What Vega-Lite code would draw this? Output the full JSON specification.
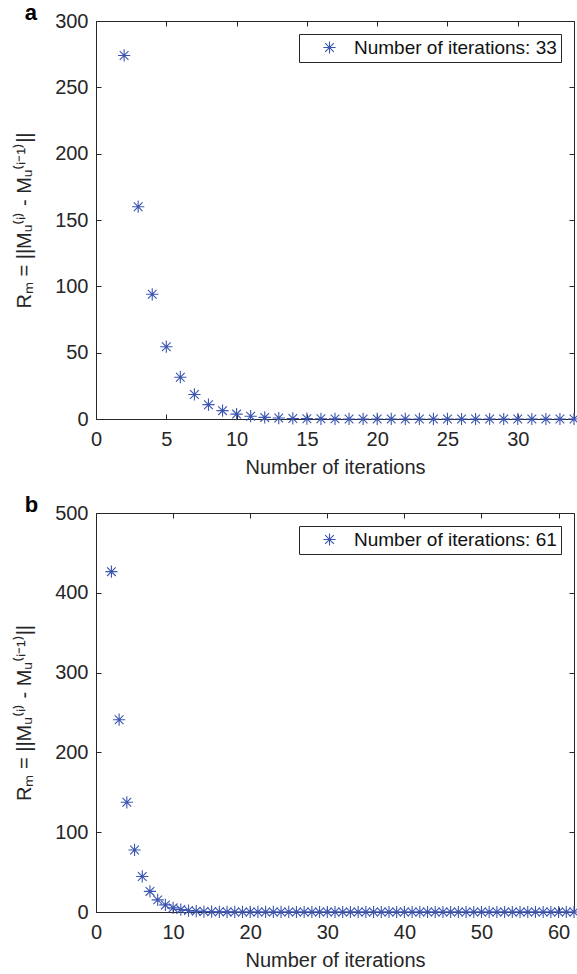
{
  "$schema": "https://vega.github.io/schema/vega-lite/v6.json",
  "background": "white",
  "padding": {"left": 14, "top": 1, "right": 0, "bottom": 0},
  "spacing": 15,
  "resolve": {"scale": {"color": "independent"}, "legend": {"color": "independent"}},
  "config": {
    "view": {"stroke": "#262626", "strokeWidth": 1},
    "font": "Liberation Sans",
    "axis": {
      "grid": false,
      "domain": false,
      "tickSize": -5,
      "tickColor": "#262626",
      "tickWidth": 1,
      "labelFont": "Liberation Sans",
      "labelFontSize": 20,
      "labelColor": "#262626",
      "titleFont": "Liberation Sans",
      "titleFontSize": 20,
      "titleFontWeight": "normal",
      "titleColor": "#262626",
      "labelFlush": false,
      "labelOverlap": false
    },
    "legend": {
      "orient": "top-right",
      "offset": 13,
      "title": null,
      "padding": 4,
      "strokeColor": "#262626",
      "fillColor": "white",
      "cornerRadius": 0,
      "labelFont": "Liberation Sans",
      "labelFontSize": 19,
      "labelColor": "#111111",
      "labelLimit": 400,
      "symbolOffset": 17,
      "labelOffset": 15,
      "symbolSize": 150,
      "symbolStrokeWidth": 1.1
    }
  },
  "datasets": {
    "runA": [
      {"iter": 2, "rm": 274},
      {"iter": 3, "rm": 160},
      {"iter": 4, "rm": 94},
      {"iter": 5, "rm": 54.5},
      {"iter": 6, "rm": 31.5},
      {"iter": 7, "rm": 18.5},
      {"iter": 8, "rm": 10.8},
      {"iter": 9, "rm": 6.3},
      {"iter": 10, "rm": 3.7},
      {"iter": 11, "rm": 2.1},
      {"iter": 12, "rm": 1.2},
      {"iter": 13, "rm": 0.72},
      {"iter": 14, "rm": 0.42},
      {"iter": 15, "rm": 0.25},
      {"iter": 16, "rm": 0.14},
      {"iter": 17, "rm": 0.085},
      {"iter": 18, "rm": 0.05},
      {"iter": 19, "rm": 0.03},
      {"iter": 20, "rm": 0.017},
      {"iter": 21, "rm": 0.01},
      {"iter": 22, "rm": 0.006},
      {"iter": 23, "rm": 0.0035},
      {"iter": 24, "rm": 0.002},
      {"iter": 25, "rm": 0.0012},
      {"iter": 26, "rm": 0.0007},
      {"iter": 27, "rm": 0.0004},
      {"iter": 28, "rm": 0.00024},
      {"iter": 29, "rm": 0.00014},
      {"iter": 30, "rm": 0.00008},
      {"iter": 31, "rm": 0.00005},
      {"iter": 32, "rm": 0.00003},
      {"iter": 33, "rm": 0.000017},
      {"iter": 34, "rm": 0.00001}
    ],
    "runB": [
      {"iter": 2, "rm": 426.5},
      {"iter": 3, "rm": 241},
      {"iter": 4, "rm": 137.5},
      {"iter": 5, "rm": 77.7},
      {"iter": 6, "rm": 44.5},
      {"iter": 7, "rm": 25.8},
      {"iter": 8, "rm": 15.2},
      {"iter": 9, "rm": 8.9},
      {"iter": 10, "rm": 5.2},
      {"iter": 11, "rm": 3.0},
      {"iter": 12, "rm": 1.8},
      {"iter": 13, "rm": 1.05},
      {"iter": 14, "rm": 0.6},
      {"iter": 15, "rm": 0.36},
      {"iter": 16, "rm": 0.21},
      {"iter": 17, "rm": 0.12},
      {"iter": 18, "rm": 0.07},
      {"iter": 19, "rm": 0.04},
      {"iter": 20, "rm": 0.024},
      {"iter": 21, "rm": 0.014},
      {"iter": 22, "rm": 0.008},
      {"iter": 23, "rm": 0.005},
      {"iter": 24, "rm": 0.003},
      {"iter": 25, "rm": 0.0017},
      {"iter": 26, "rm": 0.001},
      {"iter": 27, "rm": 0.0006},
      {"iter": 28, "rm": 0.00035},
      {"iter": 29, "rm": 0.0002},
      {"iter": 30, "rm": 0.00012},
      {"iter": 31, "rm": 0.00007},
      {"iter": 32, "rm": 0.00004},
      {"iter": 33, "rm": 0.000024},
      {"iter": 34, "rm": 0.000014},
      {"iter": 35, "rm": 0.000008},
      {"iter": 36, "rm": 0.000005},
      {"iter": 37, "rm": 0.000003},
      {"iter": 38, "rm": 0.0000017},
      {"iter": 39, "rm": 0.000001},
      {"iter": 40, "rm": 0.0000006},
      {"iter": 41, "rm": 0.00000035},
      {"iter": 42, "rm": 0.0000002},
      {"iter": 43, "rm": 0.00000012},
      {"iter": 44, "rm": 0.00000007},
      {"iter": 45, "rm": 0.00000004},
      {"iter": 46, "rm": 0.000000024},
      {"iter": 47, "rm": 0.000000014},
      {"iter": 48, "rm": 0.000000008},
      {"iter": 49, "rm": 0.000000005},
      {"iter": 50, "rm": 0.000000003},
      {"iter": 51, "rm": 0.0000000017},
      {"iter": 52, "rm": 0.000000001},
      {"iter": 53, "rm": 0.0000000006},
      {"iter": 54, "rm": 0.00000000035},
      {"iter": 55, "rm": 0.0000000002},
      {"iter": 56, "rm": 0.00000000012},
      {"iter": 57, "rm": 0.00000000007},
      {"iter": 58, "rm": 0.00000000004},
      {"iter": 59, "rm": 0.000000000024},
      {"iter": 60, "rm": 0.000000000014},
      {"iter": 61, "rm": 0.000000000008},
      {"iter": 62, "rm": 0.000000000005}
    ]
  },
  "vconcat": [
    {
      "width": 478,
      "height": 398,
      "title": {"text": "a", "anchor": "start", "frame": "bounds", "fontSize": 22, "fontWeight": "bold", "font": "Liberation Sans", "color": "black", "offset": -14, "dx": 10},
      "data": {"name": "runA"},
      "layer": [
        {
          "mark": {"type": "point", "shape": "M-1,0L1,0M0,-1L0,1M-0.71,-0.71L0.71,0.71M-0.71,0.71L0.71,-0.71", "filled": false, "size": 150, "strokeWidth": 1.1, "opacity": 1},
          "encoding": {
            "x": {"field": "iter", "type": "quantitative", "scale": {"domain": [0, 34], "nice": false, "zero": false},
                  "axis": {"orient": "bottom", "values": [0, 5, 10, 15, 20, 25, 30], "labelPadding": 15, "title": "Number of iterations", "titlePadding": 8}},
            "y": {"field": "rm", "type": "quantitative", "scale": {"domain": [0, 300], "nice": false},
                  "axis": {"orient": "left", "values": [0, 50, 100, 150, 200, 250, 300], "labelPadding": 13, "title": "Rₘ = ||Mᵤ⁽ⁱ⁾ - Mᵤ⁽ⁱ⁻¹⁾||", "titlePadding": 20}},
            "color": {"datum": "Number of iterations: 33", "scale": {"range": ["#3b55b0"]}}
          }
        },
        {
          "mark": {"type": "point", "opacity": 0},
          "encoding": {
            "x": {"field": "iter", "type": "quantitative", "axis": {"orient": "top", "values": [0, 5, 10, 15, 20, 25, 30], "labels": false, "title": null}},
            "y": {"field": "rm", "type": "quantitative", "axis": {"orient": "right", "values": [0, 50, 100, 150, 200, 250, 300], "labels": false, "title": null}}
          }
        }
      ]
    },
    {
      "width": 478,
      "height": 399,
      "title": {"text": "b", "anchor": "start", "frame": "bounds", "fontSize": 22, "fontWeight": "bold", "font": "Liberation Sans", "color": "black", "offset": -14, "dx": 10},
      "data": {"name": "runB"},
      "layer": [
        {
          "mark": {"type": "point", "shape": "M-1,0L1,0M0,-1L0,1M-0.71,-0.71L0.71,0.71M-0.71,0.71L0.71,-0.71", "filled": false, "size": 150, "strokeWidth": 1.1, "opacity": 1},
          "encoding": {
            "x": {"field": "iter", "type": "quantitative", "scale": {"domain": [0, 62], "nice": false, "zero": false},
                  "axis": {"orient": "bottom", "values": [0, 10, 20, 30, 40, 50, 60], "labelPadding": 15, "title": "Number of iterations", "titlePadding": 8}},
            "y": {"field": "rm", "type": "quantitative", "scale": {"domain": [0, 500], "nice": false},
                  "axis": {"orient": "left", "values": [0, 100, 200, 300, 400, 500], "labelPadding": 13, "title": "Rₘ = ||Mᵤ⁽ⁱ⁾ - Mᵤ⁽ⁱ⁻¹⁾||", "titlePadding": 20}},
            "color": {"datum": "Number of iterations: 61", "scale": {"range": ["#3b55b0"]}}
          }
        },
        {
          "mark": {"type": "point", "opacity": 0},
          "encoding": {
            "x": {"field": "iter", "type": "quantitative", "axis": {"orient": "top", "values": [0, 10, 20, 30, 40, 50, 60], "labels": false, "title": null}},
            "y": {"field": "rm", "type": "quantitative", "axis": {"orient": "right", "values": [0, 100, 200, 300, 400, 500], "labels": false, "title": null}}
          }
        }
      ]
    }
  ]
}
